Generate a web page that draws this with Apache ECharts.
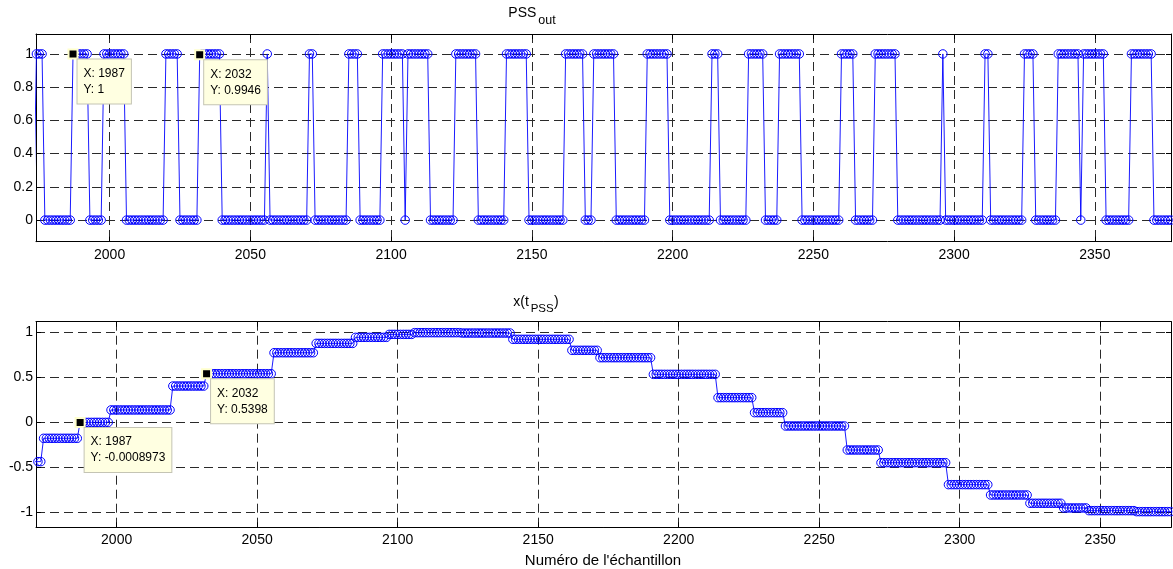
<!DOCTYPE html>
<html>
<head>
<meta charset="utf-8">
<script src="https://cdn.jsdelivr.net/npm/echarts@6/dist/echarts.min.js"></script>
<style>
html,body{margin:0;padding:0;background:#fff;}
#chart{width:1173px;height:569px;}
</style>
</head>
<body>
<div id="chart"></div>
<script>
// ---------------- data ----------------
// PSS_out : binary sequence, run lengths alternating starting with value 0 at sample 1973
const pssStart = 1973;
const pssFirstValue = 0;
const pssRunLengths = [1,3,10,6,5,8,14,5,7,8,16,1,14,2,12,4,8,8,1,8,9,8,10,8,13,7,3,8,11,8,15,3,10,6,5,8,14,5,7,8,16,1,14,2,12,4,8,8,1,8,9,8,7];
const pssTips = [[1987, 1], [2032, 0.9946]];

// x(t_PSS) : sample-and-hold levels, each held from its start sample to the next start
const xStepStarts = [1971,1974,1987,1998,2020,2032,2056,2071,2085,2097,2106,2123,2141,2162,2172,2191,2214,2227,2238,2260,2272,2296,2311,2325,2337,2346,2363];
const xStepValues = [-0.437,-0.178,-0.0008973,0.137,0.403,0.5398,0.773,0.877,0.944,0.977,0.996,0.992,0.922,0.800,0.718,0.533,0.274,0.107,-0.041,-0.308,-0.449,-0.693,-0.808,-0.900,-0.952,-0.982,-0.993];
const xLastSample = 2376;
const xTips = [[1987, -0.0008973], [2032, 0.5398]];

// tick labels
const xTickLabels = ['2000','2050','2100','2150','2200','2250','2300','2350'];
const topYTickLabels = ['0','0.2','0.4','0.6','0.8','1'];
const botYTickLabels = ['-1','-0.5','0','0.5','1'];

// axis extents
const topXRange = [1973.85, 2377.05];
const topYRange = [-0.13, 1.12];
const botXRange = [1971.3, 2375.2];
const botYRange = [-1.167, 1.118];

// ---------------- build series data ----------------
function expandRuns(start, firstValue, lengths) {
  const out = []; let v = firstValue, n = start;
  for (const len of lengths) { for (let i = 0; i < len; i++) out.push([n++, v]); v = 1 - v; }
  return out;
}
function expandSteps(starts, values, last) {
  const out = [];
  for (let k = 0; k < starts.length; k++) {
    const end = k + 1 < starts.length ? starts[k + 1] - 1 : last;
    for (let n = starts[k]; n <= end; n++) out.push([n, values[k]]);
  }
  return out;
}
const pssData = expandRuns(pssStart, pssFirstValue, pssRunLengths);
pssTips.forEach(([tx, ty]) => { const p = pssData.find(d => d[0] === tx); if (p) p[1] = ty; });
const xData = expandSteps(xStepStarts, xStepValues, xLastSample);

// ---------------- styling ----------------
const FONT = '"Liberation Sans", Arial, Helvetica, sans-serif';
const BLUE = '#0000ff';

function fmt(labels) {
  return function (v) {
    const s = String(+Number(v).toFixed(6));
    return labels.indexOf(s) >= 0 ? s : '';
  };
}
function step(labels) { return +(Number(labels[1]) - Number(labels[0])).toFixed(6); }

function mkX(grid, range, primary) {
  const st = step(xTickLabels);
  return {
    type: 'value', gridIndex: grid, min: range[0], max: range[1],
    position: primary ? 'bottom' : 'top',
    minInterval: st, maxInterval: st, splitNumber: 8,
    axisLine: { show: true, onZero: false, lineStyle: { color: '#000', width: 1 } },
    axisTick: { show: true, inside: true, length: 5, lineStyle: { color: '#000', width: 1 } },
    axisLabel: { show: primary, showMinLabel: false, showMaxLabel: false, margin: 6,
      fontSize: 14, fontFamily: FONT, color: '#000', formatter: fmt(xTickLabels) },
    splitLine: { show: primary, lineStyle: { color: '#2a2a2a', width: 1, type: [9, 5] } }
  };
}
function mkY(grid, range, labels, primary) {
  const st = step(labels);
  return {
    type: 'value', gridIndex: grid, min: range[0], max: range[1],
    position: primary ? 'left' : 'right',
    minInterval: st, maxInterval: st,
    axisLine: { show: true, onZero: false, lineStyle: { color: '#000', width: 1 } },
    axisTick: { show: true, inside: true, length: 5, lineStyle: { color: '#000', width: 1 } },
    axisLabel: { show: primary, showMinLabel: false, showMaxLabel: false, margin: 3,
      fontSize: 14, fontFamily: FONT, color: '#000', formatter: fmt(labels) },
    splitLine: { show: primary, lineStyle: { color: '#2a2a2a', width: 1, type: [9, 5] } }
  };
}
function tipPoints(tips) {
  return {
    symbol: 'rect', symbolSize: 9,
    itemStyle: { color: '#000', borderColor: '#ffffcc', borderWidth: 2 },
    label: {
      show: true, position: [10, 11], align: 'left', verticalAlign: 'top',
      backgroundColor: '#ffffe1', borderColor: '#c4c4b4', borderWidth: 1,
      padding: [6, 6, 6, 6], fontSize: 12, lineHeight: 16, fontFamily: FONT, color: '#000'
    },
    data: tips.map(([tx, ty]) => ({ coord: [tx, ty], label: { formatter: 'X: ' + tx + '\nY: ' + ty } }))
  };
}
function mkSeries(xi, yi, data, tips) {
  return {
    type: 'line', xAxisIndex: xi, yAxisIndex: yi, data: data,
    symbol: 'circle', symbolSize: 8.5, showAllSymbol: true, clip: true,
    itemStyle: { color: 'rgba(0,0,255,0)', borderColor: BLUE, borderWidth: 1 },
    lineStyle: { color: BLUE, width: 0.9 },
    emphasis: { disabled: true }, silent: true, animation: false,
    markPoint: tipPoints(tips)
  };
}

const chart = echarts.init(document.getElementById('chart'), null, { renderer: 'canvas' });
chart.setOption({
  backgroundColor: '#fff',
  animation: false,
  grid: [
    { left: 36, top: 34, width: 1135, height: 207.7, containLabel: false },
    { left: 36, top: 321.7, width: 1135, height: 205.6, containLabel: false }
  ],
  xAxis: [mkX(0, topXRange, true), mkX(0, topXRange, false), mkX(1, botXRange, true), mkX(1, botXRange, false)],
  yAxis: [mkY(0, topYRange, topYTickLabels, true), mkY(0, topYRange, topYTickLabels, false),
          mkY(1, botYRange, botYTickLabels, true), mkY(1, botYRange, botYTickLabels, false)],
  series: [mkSeries(0, 0, pssData, pssTips), mkSeries(2, 2, xData, xTips)],
  graphic: [
    { type: 'text', x: 508.3, y: 13.4, silent: true, style: { text: 'PSS', fontSize: 14, fontFamily: FONT, fill: '#000', align: 'left', verticalAlign: 'middle' } },
    { type: 'text', x: 538.3, y: 20.7, silent: true, style: { text: 'out', fontSize: 12.5, fontFamily: FONT, fill: '#000', align: 'left', verticalAlign: 'middle' } },
    { type: 'text', x: 513.3, y: 302.3, silent: true, style: { text: 'x(t', fontSize: 14, fontFamily: FONT, fill: '#000', align: 'left', verticalAlign: 'middle' } },
    { type: 'text', x: 530.7, y: 309.3, silent: true, style: { text: 'PSS', fontSize: 11.5, fontFamily: FONT, fill: '#000', align: 'left', verticalAlign: 'middle' } },
    { type: 'text', x: 554, y: 302.3, silent: true, style: { text: ')', fontSize: 14, fontFamily: FONT, fill: '#000', align: 'left', verticalAlign: 'middle' } },
    { type: 'text', x: 603, y: 561.2, silent: true, style: { text: "Numéro de l'échantillon", fontSize: 15, fontFamily: FONT, fill: '#000', align: 'center', verticalAlign: 'middle' } }
  ]
});
</script>
</body>
</html>
